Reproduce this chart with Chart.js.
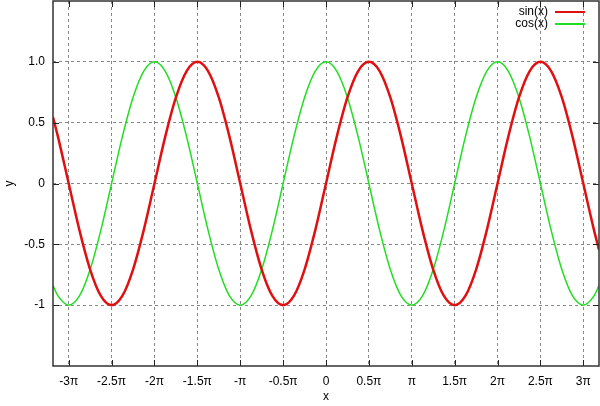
<!DOCTYPE html>
<html>
<head>
<meta charset="utf-8">
<script src="https://cdn.jsdelivr.net/npm/chart.js@4.4.0/dist/chart.umd.min.js"></script>
<style>
  html, body { margin: 0; padding: 0; background: #fff; }
  #wrap { width: 600px; height: 406px; }
</style>
</head>
<body>
<div id="wrap"><canvas id="chart"></canvas></div>
<script>
// x positions in units of pi (ends are x = -10 and x = 10)
const xPi = [-3.1831,
  -3.125, -3, -2.875, -2.75, -2.625, -2.5, -2.375, -2.25, -2.125, -2,
  -1.875, -1.75, -1.625, -1.5, -1.375, -1.25, -1.125, -1, -0.875, -0.75,
  -0.625, -0.5, -0.375, -0.25, -0.125, 0, 0.125, 0.25, 0.375, 0.5,
  0.625, 0.75, 0.875, 1, 1.125, 1.25, 1.375, 1.5, 1.625, 1.75,
  1.875, 2, 2.125, 2.25, 2.375, 2.5, 2.625, 2.75, 2.875, 3, 3.125,
  3.1831];

const sinY = [0.544,
  0.383, 0, -0.383, -0.707, -0.924, -1, -0.924, -0.707, -0.383, 0,
  0.383, 0.707, 0.924, 1, 0.924, 0.707, 0.383, 0, -0.383, -0.707,
  -0.924, -1, -0.924, -0.707, -0.383, 0, 0.383, 0.707, 0.924, 1,
  0.924, 0.707, 0.383, 0, -0.383, -0.707, -0.924, -1, -0.924, -0.707,
  -0.383, 0, 0.383, 0.707, 0.924, 1, 0.924, 0.707, 0.383, 0, -0.383,
  -0.544];

const cosY = [-0.839,
  -0.924, -1, -0.924, -0.707, -0.383, 0, 0.383, 0.707, 0.924, 1,
  0.924, 0.707, 0.383, 0, -0.383, -0.707, -0.924, -1, -0.924, -0.707,
  -0.383, 0, 0.383, 0.707, 0.924, 1, 0.924, 0.707, 0.383, 0,
  -0.383, -0.707, -0.924, -1, -0.924, -0.707, -0.383, 0, 0.383, 0.707,
  0.924, 1, 0.924, 0.707, 0.383, 0, -0.383, -0.707, -0.924, -1, -0.924,
  -0.839];

const xTickPi = [-3, -2.5, -2, -1.5, -1, -0.5, 0, 0.5, 1, 1.5, 2, 2.5, 3];
const xTickLabels = ["-3π", "-2.5π", "-2π", "-1.5π", "-π", "-0.5π", "0",
  "0.5π", "π", "1.5π", "2π", "2.5π", "3π"];
const yTicks = [-1, -0.5, 0, 0.5, 1];
const yTickLabels = ["-1", "-0.5", "0", "0.5", "1.0"];

const FONT = "'Liberation Sans', Arial, sans-serif";

// gnuplot style: border, inward tick marks and the key in the top right
const gnuplotBits = {
  id: "gnuplotBits",
  afterDatasetsDraw(c) {
    const ctx = c.ctx;
    const a = c.chartArea;
    const xs = c.scales.x, ys = c.scales.y;
    ctx.save();
    ctx.strokeStyle = "#222";
    ctx.lineWidth = 1;
    ctx.beginPath();
    xTickPi.forEach(v => {
      const px = Math.round(xs.getPixelForValue(v * Math.PI)) + 0.5;
      ctx.moveTo(px, a.bottom); ctx.lineTo(px, a.bottom - 6);
      ctx.moveTo(px, a.top); ctx.lineTo(px, a.top + 6);
    });
    yTicks.forEach(v => {
      const py = Math.round(ys.getPixelForValue(v)) + 0.5;
      ctx.moveTo(a.left, py); ctx.lineTo(a.left + 6, py);
      ctx.moveTo(a.right, py); ctx.lineTo(a.right - 6, py);
    });
    ctx.stroke();

    ctx.strokeStyle = "#333";
    ctx.lineWidth = 1.5;
    ctx.strokeRect(a.left, a.top, a.right - a.left, a.bottom - a.top);

    ctx.font = "12px " + FONT;
    ctx.textAlign = "right";
    ctx.textBaseline = "middle";
    c.data.datasets.forEach((ds, i) => {
      const y = 12 + i * 12;
      ctx.fillStyle = "#000";
      ctx.fillText(ds.label, 548, y);
      ctx.strokeStyle = ds.borderColor;
      ctx.lineWidth = 2;
      ctx.beginPath();
      ctx.moveTo(555, y); ctx.lineTo(585, y);
      ctx.stroke();
    });
    ctx.restore();
  }
};

new Chart(document.getElementById("chart").getContext("2d"), {
  type: "line",
  data: {
    datasets: [
      {
        label: "sin(x)",
        data: xPi.map((v, i) => ({ x: v * Math.PI, y: sinY[i] })),
        borderColor: "#e01010",
        borderWidth: 2.5,
        pointRadius: 0,
        cubicInterpolationMode: "monotone",
        fill: false
      },
      {
        label: "cos(x)",
        data: xPi.map((v, i) => ({ x: v * Math.PI, y: cosY[i] })),
        borderColor: "#22dd22",
        borderWidth: 1.5,
        pointRadius: 0,
        cubicInterpolationMode: "monotone",
        fill: false
      }
    ]
  },
  options: {
    responsive: true,
    maintainAspectRatio: false,
    animation: false,
    layout: { padding: { top: 1, right: 1, left: 0, bottom: 0 } },
    plugins: {
      legend: { display: false },
      tooltip: { enabled: false }
    },
    scales: {
      x: {
        type: "linear",
        min: -10,
        max: 10,
        afterBuildTicks(scale) {
          scale.ticks = xTickPi.map(v => ({ value: v * Math.PI }));
        },
        afterFit(scale) {
          scale.height = 40;
          scale.paddingLeft = 0;
          scale.paddingRight = 0;
        },
        ticks: {
          autoSkip: false,
          maxRotation: 0,
          padding: 8,
          color: "#000",
          font: { family: FONT, size: 12 },
          callback: (val, i) => xTickLabels[i]
        },
        grid: {
          color: "#888",
          lineWidth: 1,
          drawTicks: false,
          tickLength: 0
        },
        border: { display: false, dash: [3, 3] },
        title: {
          display: true,
          text: "x",
          color: "#000",
          font: { family: FONT, size: 12 },
          padding: { top: 0, bottom: 2 }
        }
      },
      y: {
        min: -1.5,
        max: 1.5,
        afterBuildTicks(scale) {
          scale.ticks = yTicks.map(v => ({ value: v }));
        },
        afterFit(scale) {
          scale.width = 53;
          scale.paddingTop = 0;
          scale.paddingBottom = 0;
        },
        ticks: {
          autoSkip: false,
          padding: 8,
          color: "#000",
          font: { family: FONT, size: 12 },
          callback: (val, i) => yTickLabels[i]
        },
        grid: {
          color: "#888",
          lineWidth: 1,
          drawTicks: false,
          tickLength: 0
        },
        border: { display: false, dash: [3, 3] },
        title: {
          display: true,
          text: "y",
          color: "#000",
          font: { family: FONT, size: 12 },
          padding: { top: 2, bottom: 0 }
        }
      }
    }
  },
  plugins: [gnuplotBits]
});
</script>
</body>
</html>
